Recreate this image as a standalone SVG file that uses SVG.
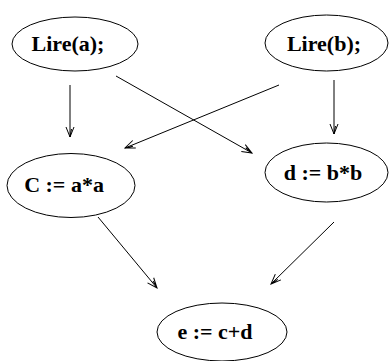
<svg xmlns="http://www.w3.org/2000/svg" width="390" height="361" viewBox="0 0 390 361">
<style>
.n ellipse{fill:#fff;stroke:#000;stroke-width:1}
.n text{font-family:"Liberation Serif","Times New Roman",serif;font-weight:bold;font-size:22px;fill:#000;text-anchor:middle}
.c line{stroke:#000;stroke-width:1;fill:none}
</style>
<defs>
<marker id="ah" viewBox="0 0 12 10" refX="11" refY="5" markerWidth="12" markerHeight="10" markerUnits="userSpaceOnUse" orient="auto">
<path d="M1,1 L11,5 L1,9 M3,3.5 L11,5" fill="none" stroke="#000" stroke-width="1"/>
</marker>
</defs>
<g id="connectors" class="c">
<line x1="70" y1="85" x2="70" y2="137" marker-end="url(#ah)"/>
<line x1="116" y1="76" x2="252" y2="153" marker-end="url(#ah)"/>
<line x1="279" y1="85" x2="125" y2="148" marker-end="url(#ah)"/>
<line x1="334" y1="80" x2="334" y2="134" marker-end="url(#ah)"/>
<line x1="98" y1="217" x2="157" y2="288" marker-end="url(#ah)"/>
<line x1="334" y1="222" x2="271" y2="284" marker-end="url(#ah)"/>
</g>
<g id="lire_a" class="n"><ellipse cx="75" cy="44" rx="63" ry="27"/><text x="68" y="51">Lire(a);</text></g>
<g id="lire_b" class="n"><ellipse cx="326.5" cy="43" rx="61.5" ry="28"/><text x="324" y="51">Lire(b);</text></g>
<g id="c_node" class="n"><ellipse cx="71" cy="185.5" rx="64" ry="32"/><text x="64" y="192">C := a*a</text></g>
<g id="d_node" class="n"><ellipse cx="326.5" cy="172.5" rx="61.5" ry="29.5"/><text x="323" y="180">d := b*b</text></g>
<g id="e_node" class="n"><ellipse cx="222" cy="332" rx="65" ry="29"/><text x="215" y="339">e := c+d</text></g>
</svg>
